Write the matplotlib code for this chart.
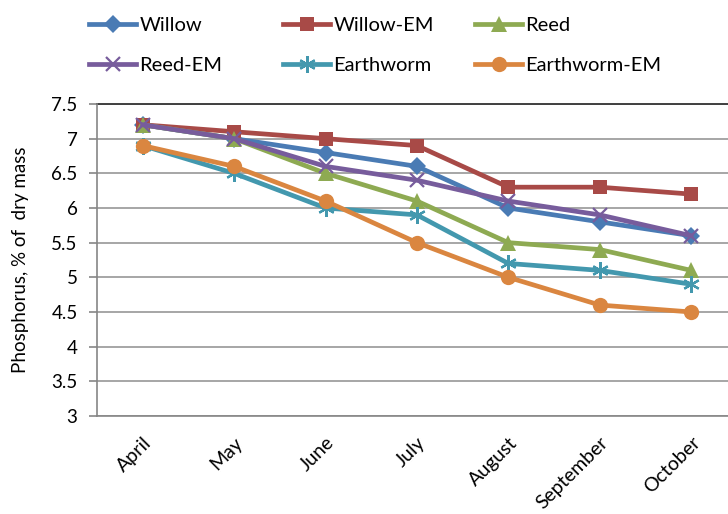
import matplotlib
matplotlib.use('Agg')
import matplotlib.pyplot as plt

months = ['April', 'May', 'June', 'July', 'August', 'September', 'October']

willow = [7.2, 7.0, 6.8, 6.6, 6.0, 5.8, 5.6]
willow_em = [7.2, 7.1, 7.0, 6.9, 6.3, 6.3, 6.2]
reed = [7.2, 7.0, 6.5, 6.1, 5.5, 5.4, 5.1]
reed_em = [7.2, 7.0, 6.6, 6.4, 6.1, 5.9, 5.6]
earthworm = [6.9, 6.5, 6.0, 5.9, 5.2, 5.1, 4.9]
earthworm_em = [6.9, 6.6, 6.1, 5.5, 5.0, 4.6, 4.5]

yticks = [3, 3.5, 4, 4.5, 5, 5.5, 6, 6.5, 7, 7.5]

series = [
    ('Willow', willow, '#4A7BB4', 'D', 9),
    ('Willow-EM', willow_em, '#A84A47', 's', 10),
    ('Reed', reed, '#8EAA52', '^', 11),
    ('Reed-EM', reed_em, '#775C9C', 'x', 10),
    ('Earthworm', earthworm, '#4398AE', (6, 2, 0), 12),
    ('Earthworm-EM', earthworm_em, '#DA8640', 'o', 11),
]

plt.rcParams.update({'font.size': 13.5, 'font.family': ['Lato', 'DejaVu Sans']})
fig = plt.figure(figsize=(7.28, 5.14), dpi=100)
ax = fig.add_axes([0.1332, 0.1907, 0.879, 0.607])

x = list(range(len(months)))
handles = []
for name, vals, colour, marker, ms in series:
    thin = marker == 'x' or isinstance(marker, tuple)
    h, = ax.plot(x, vals, color=colour, linewidth=3.4, marker=marker,
                 markersize=ms, markeredgewidth=1.6 if thin else 0, label=name)
    handles.append(h)

ax.set_xlim(-0.5, len(months) - 0.5)
ax.set_ylim(3, 7.5)
ax.set_yticks(yticks)
ax.set_yticklabels([f'{v:g}' for v in yticks])
ax.set_xticks(x)
ax.set_xticklabels(months, rotation=45, ha='right', rotation_mode='anchor',
                   fontsize=14)
ax.tick_params(axis='x', length=0, pad=13)
ax.tick_params(axis='y', length=6, color='#868686', width=1.2, pad=8)

ax.grid(axis='y', color='#A6A6A6', linewidth=1.4)
ax.set_axisbelow(True)
for side in ('top', 'right'):
    ax.spines[side].set_visible(False)
for side in ('left', 'bottom'):
    ax.spines[side].set_color('#868686')
    ax.spines[side].set_linewidth(1.2)
ax.axhline(7.5, color='#404040', linewidth=1.4, clip_on=False)

ax.set_ylabel('Phosphorus, % of  dry mass', labelpad=16)

# one legend per column so the three columns sit at an even pitch
col_x = [89 / 728, 283 / 728, 475 / 728]
for i, cx in enumerate(col_x):
    fig.legend(handles=[handles[i], handles[i + 3]], loc='upper left',
               bbox_to_anchor=(cx, 1 - 17 / 514), frameon=False,
               borderpad=0, borderaxespad=0,
               handlelength=2.35, handletextpad=0.15,
               labelspacing=1.15, fontsize=14.5)

fig.savefig('out.png', dpi=100)
